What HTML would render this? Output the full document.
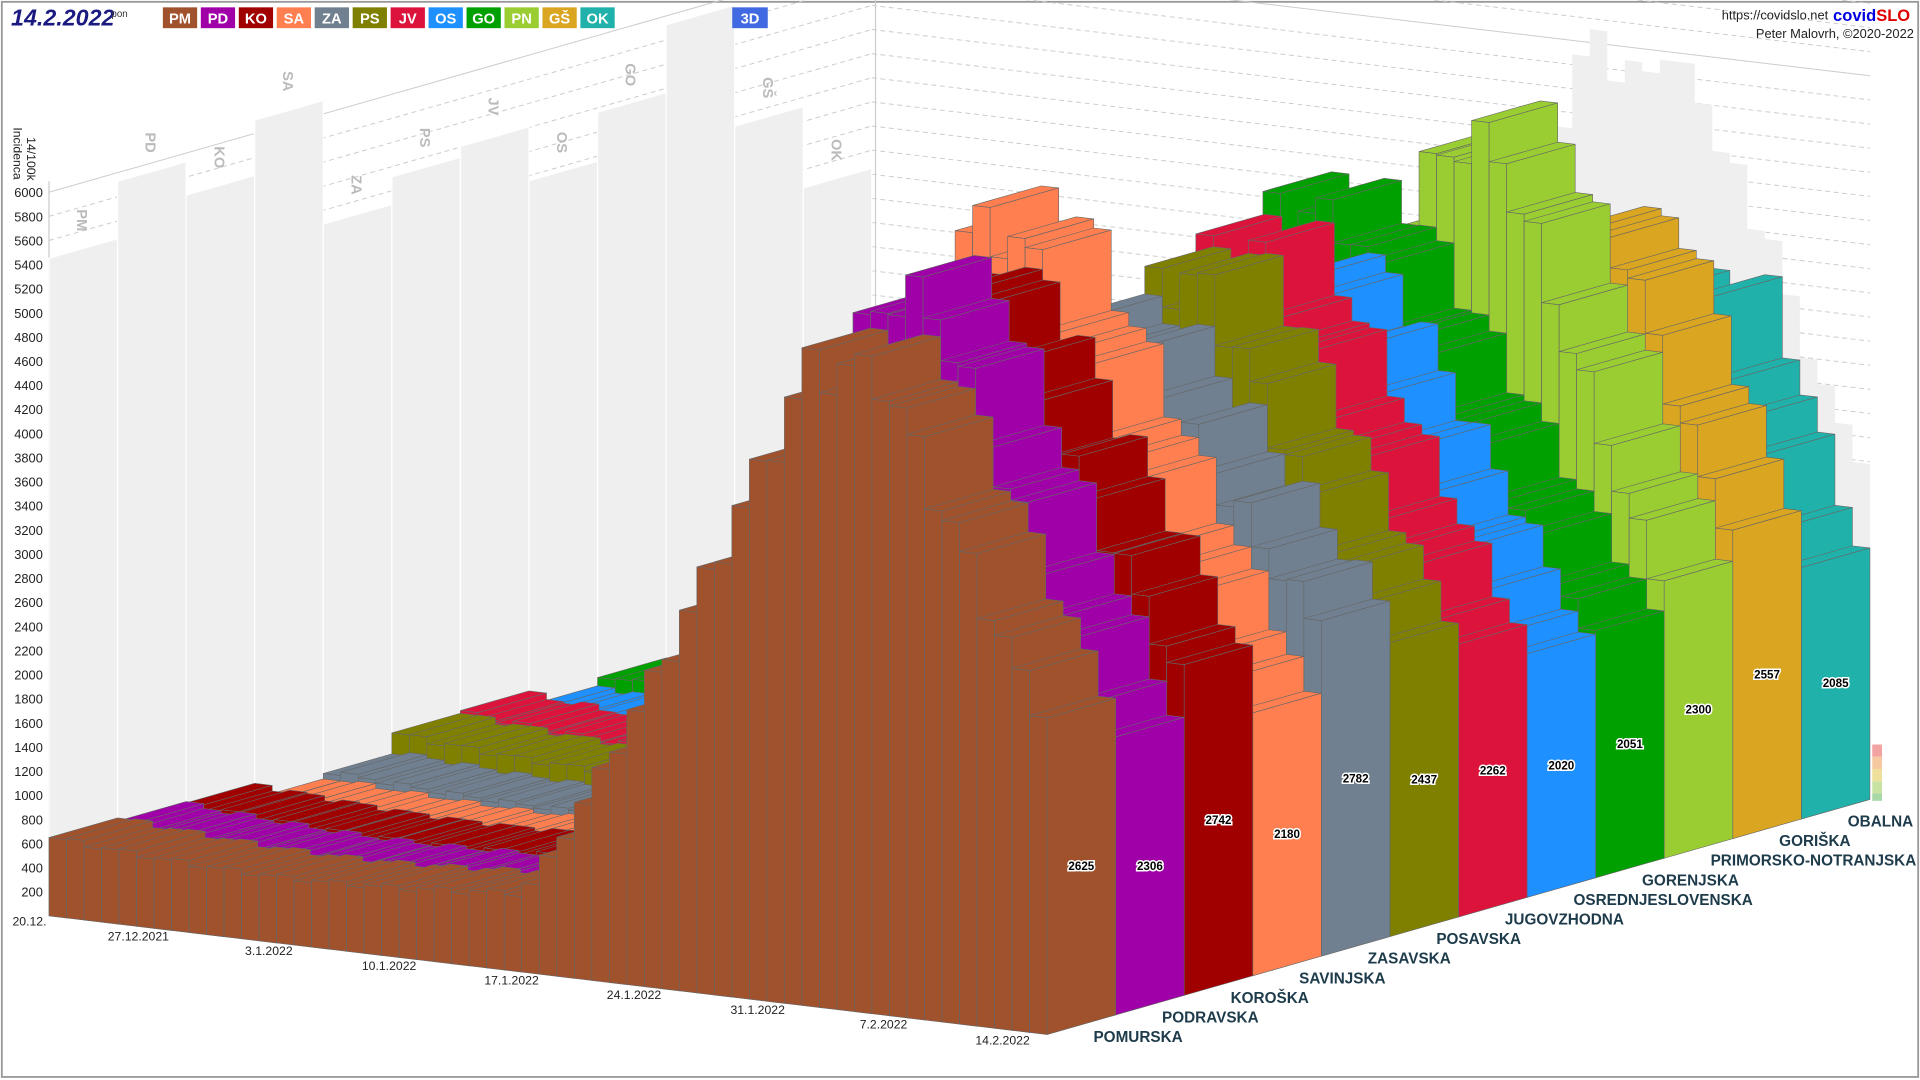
<!DOCTYPE html>
<html><head><meta charset="utf-8">
<style>
html,body{margin:0;padding:0;background:#fff;}
svg{display:block;font-family:"Liberation Sans",sans-serif;}
</style></head>
<body>
<svg id="s" width="1920" height="1080" viewBox="0 0 1568 882" xmlns="http://www.w3.org/2000/svg">
<rect x="0" y="0" width="1568" height="882" fill="#fff"/>
<rect x="1.5" y="1.5" width="1565" height="878" fill="none" stroke="#999" stroke-width="1.5"/>
<g id="walls"></g>
<g id="bars"></g>
<g id="vals" font-size="9.5" font-weight="bold" text-anchor="middle"></g>
<g id="ylab" font-size="10.5" fill="#222" text-anchor="end"></g>
<text transform="translate(22,112) rotate(90)" font-size="10" fill="#222">14/100k</text>
<text transform="translate(11,104) rotate(90)" font-size="10" fill="#222">Incidenca</text>
<g font-size="10" fill="#222" text-anchor="end">
<text x="38" y="756">20.12.</text>
<text x="138" y="768">27.12.2021</text>
<text x="239" y="780">3.1.2022</text>
<text x="340" y="792">10.1.2022</text>
<text x="440" y="804">17.1.2022</text>
<text x="540" y="816">24.1.2022</text>
<text x="641" y="828">31.1.2022</text>
<text x="741" y="840">7.2.2022</text>
<text x="841" y="853">14.2.2022</text>
</g>
<g font-size="12.5" fill="#1d3b4a" font-weight="bold">
<text x="893" y="851">POMURSKA</text>
<text x="949" y="835">PODRAVSKA</text>
<text x="1005" y="819">KOROŠKA</text>
<text x="1061" y="803">SAVINJSKA</text>
<text x="1117" y="787">ZASAVSKA</text>
<text x="1173" y="771">POSAVSKA</text>
<text x="1229" y="755">JUGOVZHODNA</text>
<text x="1285" y="739">OSREDNJESLOVENSKA</text>
<text x="1341" y="723">GORENJSKA</text>
<text x="1397" y="707">PRIMORSKO-NOTRANJSKA</text>
<text x="1453" y="691">GORIŠKA</text>
<text x="1509" y="675">OBALNA</text>
</g>
<rect x="1529" y="608" width="8" height="10" fill="#f4a3a3"/>
<rect x="1529" y="618" width="8" height="10" fill="#f7c9a0"/>
<rect x="1529" y="628" width="8" height="10" fill="#eedf9a"/>
<rect x="1529" y="638" width="8" height="10" fill="#c9e3a3"/>
<rect x="1529" y="648" width="8" height="6" fill="#a8d8a8"/>
<text x="9" y="21" font-size="19" font-weight="bold" fill="#1a1a80" font-style="italic">14.2.2022</text>
<text x="91" y="14" font-size="8" fill="#333">pon</text>
<g id="leg" font-size="12" font-weight="bold" fill="#fff" text-anchor="middle"></g>
<rect x="598" y="6" width="29" height="17" fill="#4169e1"/>
<text x="612.5" y="19" font-size="12" font-weight="bold" fill="#fff" text-anchor="middle">3D</text>
<text x="1493" y="16" font-size="10.5" fill="#222" text-anchor="end">https://covidslo.net</text>
<text x="1497" y="17" font-size="13.5" font-weight="bold" fill="#0000e0">covid<tspan fill="#e00000">SLO</tspan></text>
<text x="1563" y="31" font-size="10.5" fill="#222" text-anchor="end">Peter Malovrh, ©2020-2022</text>
</svg>
<script>
(function(){
var NS="http://www.w3.org/2000/svg";
function el(p,t,a){var e=document.createElementNS(NS,t);for(var k in a)e.setAttribute(k,a[k]);p.appendChild(e);return e;}
var O=[40,748],D=[14.3,1.7],R=[56,-16],k=0.0985,N=57;
var cols=["#a0522d","#a000a8","#a00000","#ff7f50","#708090","#808000","#dc143c","#1e90ff","#00a000","#9acd32","#daa520","#20b2aa"];
var abbr=["PM","PD","KO","SA","ZA","PS","JV","OS","GO","PN","GŠ","OK"];
var P=[[650,5300,43,47,2625],[600,5700,43,46,2306],[600,5500,42,45,2742],[500,5900,40,43,2180],[550,4900,42,45,2782],[700,5200,43,46,2437],
[700,5200,42,45,2262],[600,4800,42,45,2020],[700,5200,38,42,2051],[600,5700,44,47,2300],[500,4800,47,50,2557],[400,4100,48,51,2085]];
function val(r,d){var s=P[r][0],p=P[r][1],pa=P[r][2],pb=P[r][3],f=P[r][4],v;var st=26-(r>7?2:0);
 if(d<=st){v=s*(1-0.15*Math.sin(Math.PI*d/st));}
 else if(d<=pa){var t=(d-st)/(pa-st);v=s*0.85+(p-s*0.85)*Math.pow(t,1.15);}
 else if(d<=pb){v=p;}
 else{v=p+(f-p)*(d-pb)/(56-pb);}
 if(d<56)v*=1+0.04*Math.sin(d*2.1+r*1.3);
 return v;}
function pt(a){return a.map(function(q){return q[0].toFixed(1)+","+q[1].toFixed(1);}).join(" ");}
function add(a,b,s){return [a[0]+b[0]*s,a[1]+b[1]*s];}
var walls=document.getElementById("walls");
var c0=add(O,R,12);
for(var v=200;v<=6000;v+=200){var h=v*k;
 el(walls,"line",{x1:O[0],y1:O[1]-h,x2:c0[0],y2:c0[1]-h,stroke:"#ccc","stroke-width":0.8,"stroke-dasharray":v==6000?"":"4,3"});
 var e=add(c0,D,N);
 el(walls,"line",{x1:c0[0],y1:c0[1]-h,x2:e[0],y2:e[1]-h,stroke:"#ccc","stroke-width":0.8,"stroke-dasharray":v==6000?"":"4,3"});}
for(var v=6200;v<=8000;v+=200){var h=v*k,e=add(c0,D,N);
 el(walls,"line",{x1:c0[0],y1:c0[1]-h,x2:e[0],y2:e[1]-h,stroke:"#ccc","stroke-width":0.8,"stroke-dasharray":"4,3"});}
el(walls,"line",{x1:c0[0]+3,y1:0,x2:c0[0]+3,y2:c0[1],stroke:"#ccc","stroke-width":1});
el(walls,"line",{x1:O[0],y1:O[1],x2:O[0],y2:O[1]-600,stroke:"#ccc","stroke-width":1});
for(var r=0;r<12;r++){var m=0;for(var d=0;d<N;d++)m=Math.max(m,val(r,d));var h=m*k;
 var a=add(O,R,r),b=add(O,R,r+1);
 el(walls,"polygon",{points:pt([a,b,[b[0],b[1]-h],[a[0],a[1]-h]]),fill:"#efefef",stroke:"#fff","stroke-width":1});
 var cx=(a[0]+b[0])/2,cy=(a[1]+b[1])/2-h-8;
 var t=el(walls,"text",{transform:"translate("+(cx-5)+","+(cy-24)+") rotate(90)","font-size":12,fill:"#bbb","font-weight":"bold"});t.textContent=abbr[r];}
var pts=[];for(var d=30;d<N;d++){var m=0;for(var r=0;r<12;r++)m=Math.max(m,val(r,d));var a=add(c0,D,d),b=add(c0,D,d+1);pts.push([a[0],a[1]-m*k]);pts.push([b[0],b[1]-m*k]);}
var e1=add(c0,D,N),s1=add(c0,D,30);pts.push(e1);pts.push(s1);
el(walls,"polygon",{points:pt(pts),fill:"#efefef"});
var yl=document.getElementById("ylab");
for(var v=200;v<=6000;v+=200){var t=el(yl,"text",{x:35,y:O[1]-v*k+4});t.textContent=v;}
var bars=document.getElementById("bars"),vals=document.getElementById("vals");
for(var r=11;r>=0;r--){for(var d=0;d<N;d++){var v=val(r,d),h=v*k;
 var p0=add(add(O,D,d),R,r),p1=add(p0,D,1),p2=add(p1,R,1),p3=add(p0,R,1);
 var up=function(q){return [q[0],q[1]-h];};
 var st={fill:cols[r],stroke:"#666","stroke-width":0.5};
 el(bars,"polygon",Object.assign({points:pt([up(p0),up(p1),up(p2),up(p3)])},st));
 el(bars,"polygon",Object.assign({points:pt([p0,p1,up(p1),up(p0)])},st));
 el(bars,"polygon",Object.assign({points:pt([p1,p2,up(p2),up(p1)])},st));
 if(d==N-1){var cx=(p1[0]+p2[0])/2,cy=(p1[1]+p2[1])/2-h/2+3;
  var t=el(vals,"text",{x:cx,y:cy,fill:"#000",stroke:"#fff","stroke-width":2.5,"paint-order":"stroke"});t.textContent=P[r][4];}}}
var lg=document.getElementById("leg");
for(var i=0;i<12;i++){var x=133+i*31;el(lg,"rect",{x:x,y:6,width:28,height:17,fill:cols[i]});var t=el(lg,"text",{x:x+14,y:19});t.textContent=abbr[i];}
})();
</script>
</body></html>
